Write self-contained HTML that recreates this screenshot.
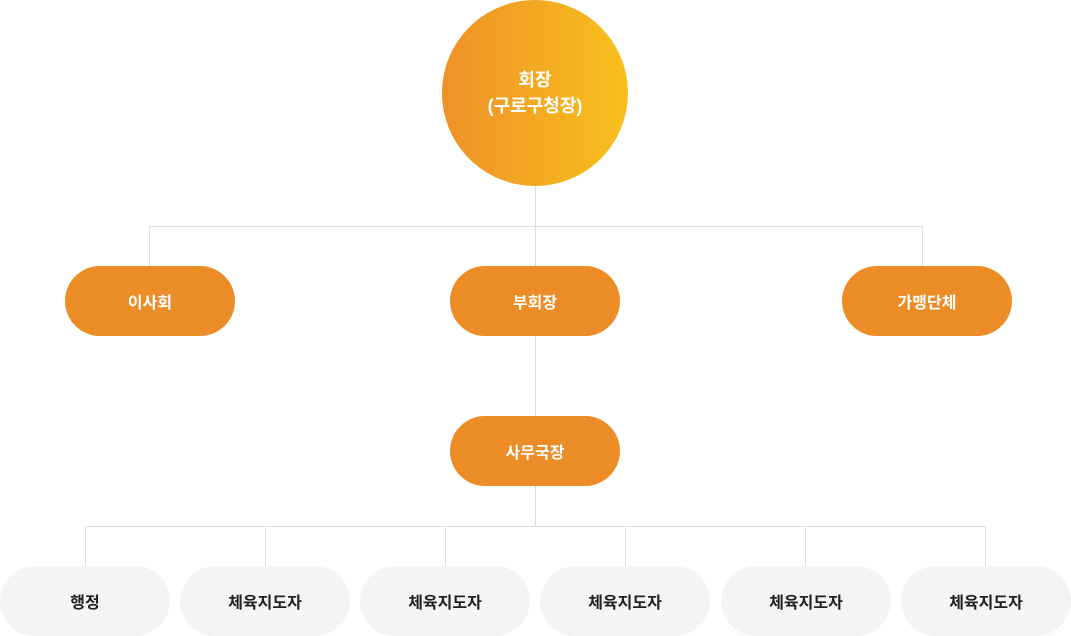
<!DOCTYPE html>
<html><head><meta charset="utf-8">
<style>
html,body{margin:0;padding:0;background:#fff;}
body{width:1071px;height:636px;position:relative;overflow:hidden;font-family:"Liberation Sans","Noto Sans CJK KR",sans-serif;}
.l{position:absolute;background:#dddddd;}
.c{position:absolute;left:442px;top:0;width:186px;height:186px;border-radius:50%;background:linear-gradient(90deg,#ee9128,#f8c01c);color:#fff;font-weight:bold;font-size:18px;line-height:26px;display:flex;align-items:center;justify-content:center;text-align:center;}
.p{position:absolute;width:170px;height:70px;border-radius:35px;display:flex;align-items:center;justify-content:center;font-weight:bold;font-size:16px;}
.o{background:#ec8c26;color:#fff;}
.g{background:#f4f4f4;color:#222;}
</style></head><body>
<div class="l" style="left:535px;top:186px;width:1px;height:80px"></div>
<div class="l" style="left:149px;top:226px;width:774px;height:1px"></div>
<div class="l" style="left:149px;top:226px;width:1px;height:40px"></div>
<div class="l" style="left:922px;top:226px;width:1px;height:40px"></div>
<div class="l" style="left:535px;top:335px;width:1px;height:81px"></div>
<div class="l" style="left:535px;top:486px;width:1px;height:40px"></div>
<div class="l" style="left:85px;top:526px;width:901px;height:1px"></div>
<div class="l" style="left:85px;top:526px;width:1px;height:40px"></div>
<div class="l" style="left:265px;top:526px;width:1px;height:40px"></div>
<div class="l" style="left:445px;top:526px;width:1px;height:40px"></div>
<div class="l" style="left:625px;top:526px;width:1px;height:40px"></div>
<div class="l" style="left:805px;top:526px;width:1px;height:40px"></div>
<div class="l" style="left:985px;top:526px;width:1px;height:40px"></div>

<div class="c">회장<br>(구로구청장)</div>
<div class="p o" style="left:65px;top:266px">이사회</div>
<div class="p o" style="left:450px;top:266px">부회장</div>
<div class="p o" style="left:842px;top:266px">가맹단체</div>
<div class="p o" style="left:450px;top:416px">사무국장</div>

<div class="p g" style="left:0px;top:566px">행정</div>
<div class="p g" style="left:180px;top:566px">체육지도자</div>
<div class="p g" style="left:360px;top:566px">체육지도자</div>
<div class="p g" style="left:540px;top:566px">체육지도자</div>
<div class="p g" style="left:721px;top:566px">체육지도자</div>
<div class="p g" style="left:901px;top:566px">체육지도자</div>
</body></html>
